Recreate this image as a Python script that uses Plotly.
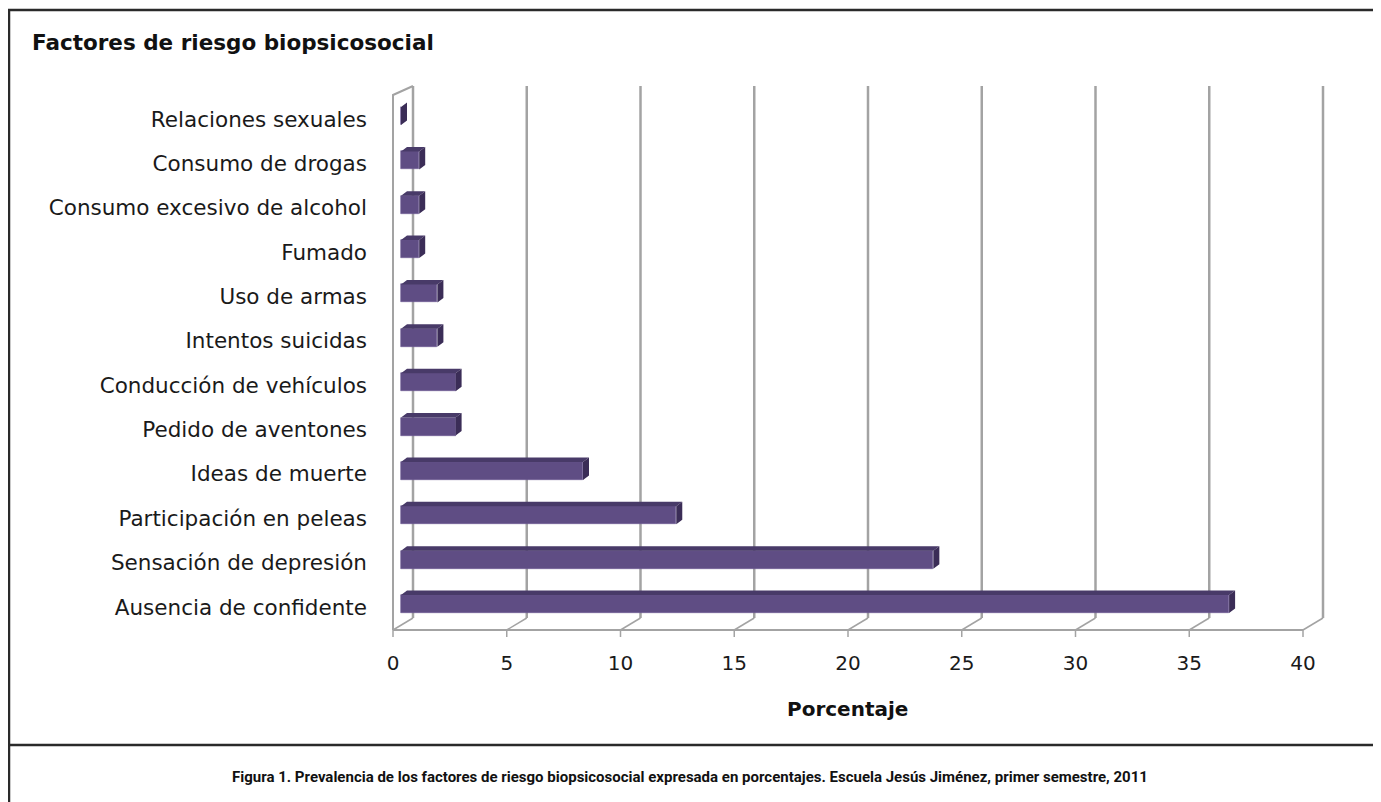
import plotly.graph_objects as go

# ---- data ----
categories = [
    "Ausencia de confidente",
    "Sensación de depresión",
    "Participación en peleas",
    "Ideas de muerte",
    "Pedido de aventones",
    "Conducción de vehículos",
    "Intentos suicidas",
    "Uso de armas",
    "Fumado",
    "Consumo excesivo de alcohol",
    "Consumo de drogas",
    "Relaciones sexuales",
]
values = [36.4, 23.4, 12.1, 8.0, 2.4, 2.4, 1.6, 1.6, 0.8, 0.8, 0.8, 0.0]
x_ticks = [0, 5, 10, 15, 20, 25, 30, 35, 40]
title_text = "Factores de riesgo biopsicosocial"
axis_title = "Porcentaje"
caption = ("Figura 1. Prevalencia de los factores de riesgo biopsicosocial expresada en porcentajes. "
           "Escuela Jesús Jiménez, primer semestre, 2011")

# ---- layout geometry (page pixels) ----
PAGE_OFF = 8              # default body margin of the html page
W, H = 1381 - PAGE_OFF, 802 - PAGE_OFF
DX0, DX1 = 385, 1335      # plot domain, x px
DY0, DY1 = 80, 640        # plot domain, y px (top, bottom)
SX = 22.75                # px per percent
SY = 44.36                # px per category
X0 = 401                  # bar zero
Y0 = 604                  # center of first bar
BAR_W = 18 / SY
DEP_X = 6 / SX
DEP_Y = 4.5 / SY
FRONT_OFF = (393 - X0) / SX
BACK_OFF = (413 - X0) / SX


def ypx(py):
    return (Y0 - py) / SY


def px_x(px):
    return (px - PAGE_OFF) / W


def px_y(py):
    return 1 - (py - PAGE_OFF) / H


xr = [(DX0 - X0) / SX, (DX1 - X0) / SX]
yr = [ypx(DY1), ypx(DY0)]

idx = list(range(len(categories)))

fig = go.Figure()

# front faces
fig.add_trace(go.Bar(
    x=values, y=idx, orientation="h", width=BAR_W,
    marker=dict(color="#5f4d84", line=dict(color="#6d5b93", width=0.6)),
    hoverinfo="skip", showlegend=False,
))

# top faces & side faces (pseudo 3D)
tx, ty, sx, sy = [], [], [], []
for i, v in zip(idx, values):
    top = i + BAR_W / 2
    bot = i - BAR_W / 2
    tx += [0, v, v + DEP_X, DEP_X, 0, None]
    ty += [top, top, top + DEP_Y, top + DEP_Y, top, None]
    sx += [v, v + DEP_X, v + DEP_X, v, v, None]
    sy += [bot, bot + DEP_Y, top + DEP_Y, top, bot, None]

fig.add_trace(go.Scatter(x=tx, y=ty, mode="lines", fill="toself",
                         fillcolor="#483a68", line=dict(width=0, color="#483a68"),
                         hoverinfo="skip", showlegend=False))
fig.add_trace(go.Scatter(x=sx, y=sy, mode="lines", fill="toself",
                         fillcolor="#3b2d57", line=dict(width=0, color="#3b2d57"),
                         hoverinfo="skip", showlegend=False))

shapes = []
grid_col = "#a3a3a3"
y_back_bot, y_back_top = ypx(618), ypx(86)
y_front = ypx(630)
for t in x_ticks:
    shapes.append(dict(type="line", xref="x", yref="y", x0=t + BACK_OFF, x1=t + BACK_OFF,
                       y0=y_back_bot, y1=y_back_top, line=dict(color=grid_col, width=2.5),
                       layer="below"))
    shapes.append(dict(type="line", xref="x", yref="y", x0=t + FRONT_OFF, x1=t + BACK_OFF,
                       y0=y_front, y1=y_back_bot, line=dict(color=grid_col, width=1.5),
                       layer="below"))
    shapes.append(dict(type="line", xref="x", yref="y", x0=t + FRONT_OFF, x1=t + FRONT_OFF,
                       y0=y_front, y1=ypx(637), line=dict(color=grid_col, width=1.5),
                       layer="below"))
shapes.append(dict(type="line", xref="x", yref="y", x0=x_ticks[0] + FRONT_OFF,
                   x1=x_ticks[-1] + FRONT_OFF, y0=y_front, y1=y_front,
                   line=dict(color=grid_col, width=2), layer="below"))
shapes.append(dict(type="path", xref="x", yref="y",
                   path=f"M {FRONT_OFF},{y_front} L {FRONT_OFF},{ypx(95)} L {BACK_OFF},{ypx(86)}",
                   line=dict(color=grid_col, width=2), layer="below"))

# outer frames
frame_col = "#2a2a2a"
shapes.append(dict(type="rect", xref="paper", yref="paper",
                   x0=px_x(9), x1=px_x(1377), y0=px_y(815), y1=px_y(10),
                   line=dict(color=frame_col, width=2.5)))
shapes.append(dict(type="line", xref="paper", yref="paper",
                   x0=px_x(9), x1=px_x(1377), y0=px_y(745), y1=px_y(745),
                   line=dict(color=frame_col, width=2.5)))

label_font = dict(family="DejaVu Sans", size=21.5, color="#1a1a1a")
tick_font = dict(family="DejaVu Sans", size=20, color="#1a1a1a")

fig.update_layout(
    width=W, height=H,
    margin=dict(l=0, r=0, t=0, b=0),
    paper_bgcolor="white", plot_bgcolor="rgba(0,0,0,0)",
    bargap=0,
    xaxis=dict(domain=[px_x(DX0), px_x(DX1)], range=xr, showgrid=False, zeroline=False,
               showticklabels=False, showline=False, fixedrange=True),
    yaxis=dict(domain=[px_y(DY1), px_y(DY0)], range=yr, showgrid=False, zeroline=False,
               showticklabels=False, showline=False, fixedrange=True),
    xaxis2=dict(overlaying="x", anchor="y", side="bottom",
                range=[(DX0 - 393) / SX, (DX1 - 393) / SX],
                tickvals=x_ticks, ticktext=[str(t) for t in x_ticks],
                showgrid=False, zeroline=False, showline=False, ticks="",
                tickfont=tick_font, ticklabelstandoff=9),
    yaxis2=dict(overlaying="y", anchor="x", side="left",
                range=[yr[0] + 3 / SY, yr[1] + 3 / SY],
                tickvals=idx, ticktext=categories,
                showgrid=False, zeroline=False, showline=False, ticks="",
                tickfont=label_font, ticklabelstandoff=17),
    shapes=shapes,
    annotations=[
        dict(text=f"<b>{title_text}</b>", xref="paper", yref="paper",
             x=px_x(30), y=px_y(42), xanchor="left", yanchor="middle", showarrow=False,
             font=dict(family="DejaVu Sans", size=21.5, color="#111")),
        dict(text=f"<b>{axis_title}</b>", xref="paper", yref="paper",
             x=px_x(847), y=px_y(709), xanchor="center", yanchor="middle", showarrow=False,
             font=dict(family="DejaVu Sans", size=20, color="#111")),
        dict(text=f"<b>{caption}</b>", xref="paper", yref="paper",
             x=px_x(690), y=px_y(777), xanchor="center", yanchor="middle", showarrow=False,
             font=dict(family="Roboto", size=15, color="#111")),
    ],
)

fig.add_trace(go.Scatter(x=[None], y=[None], xaxis="x2", yaxis="y2", showlegend=False,
                         hoverinfo="skip"))

fig.write_html("out.html")
